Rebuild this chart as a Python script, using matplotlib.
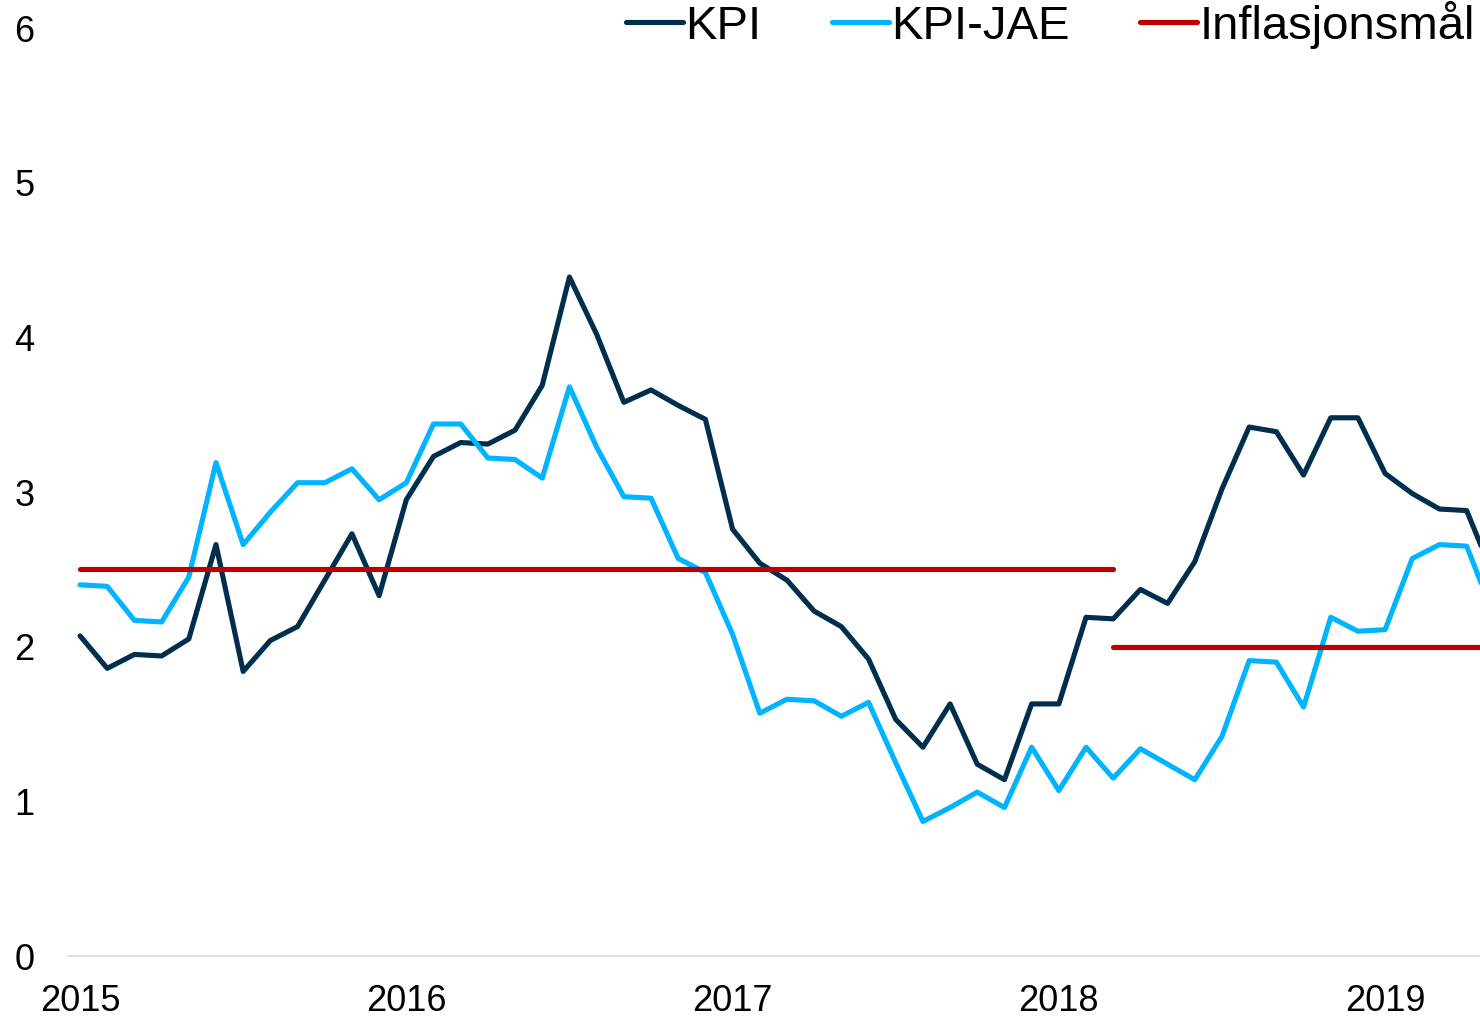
import numpy as np
import pandas as pd
from matplotlib import pyplot as plt

plt.rcParams['font.family'] = ['Liberation Sans', 'DejaVu Sans']

# Monthly 12-month growth, Jan 2015 - May 2019 (percent)
months = pd.date_range('2015-01-01', periods=53, freq='MS')

kpi = [2.07, 1.86, 1.95, 1.94, 2.05, 2.66, 1.84, 2.04, 2.13, 2.43, 2.73, 2.33,
       2.95, 3.23, 3.32, 3.31, 3.40, 3.69, 4.39, 4.02, 3.58, 3.66, 3.56, 3.47,
       2.76, 2.54, 2.43, 2.23, 2.13, 1.92, 1.53, 1.35, 1.63, 1.24, 1.14, 1.63,
       1.63, 2.19, 2.18, 2.37, 2.28, 2.55, 3.02, 3.42, 3.39, 3.11, 3.48, 3.48,
       3.12, 2.99, 2.89, 2.88, 2.45]

kpi_jae = [2.40, 2.39, 2.17, 2.16, 2.45, 3.19, 2.66, 2.87, 3.06, 3.06, 3.15, 2.95,
           3.06, 3.44, 3.44, 3.22, 3.21, 3.09, 3.68, 3.29, 2.97, 2.96, 2.57, 2.48,
           2.08, 1.57, 1.66, 1.65, 1.55, 1.64, 1.25, 0.87, 0.96, 1.06, 0.96, 1.35,
           1.07, 1.35, 1.15, 1.34, 1.24, 1.14, 1.42, 1.91, 1.90, 1.61, 2.19, 2.10,
           2.11, 2.57, 2.66, 2.65, 2.20]

# Inflation target: 2.5 up to March 2018, 2.0 afterwards
target_old = 2.5
target_new = 2.0
target_change = '2018-03-01'

labels = ['KPI', 'KPI-JAE', 'Inflasjonsmål']
colors = ['#002E4D', '#00B4FF', '#C00000']

x = np.arange(len(months))
change_idx = list(months).index(pd.Timestamp(target_change))
target1 = np.where(x <= change_idx, target_old, np.nan)
target2 = np.where(x >= change_idx, target_new, np.nan)

fig = plt.figure(figsize=(14.8, 10.19), dpi=100)
ax = fig.add_axes([0.046, 0.0618, 0.954, 0.9107])

line_kw = dict(linewidth=3.7, solid_joinstyle='round', solid_capstyle='round')
l1, = ax.plot(x, kpi, color=colors[0], zorder=2, **line_kw)
l2, = ax.plot(x, kpi_jae, color=colors[1], zorder=3, **line_kw)
l3, = ax.plot(x, target1, color=colors[2], zorder=4, **line_kw)
ax.plot(x, target2, color=colors[2], zorder=4, **line_kw)

ax.set_ylim(0, 6)
ax.set_xlim(-0.44, 51.49)
ax.set_yticks(range(0, 7))

# Year labels on January
jan = [i for i, m in enumerate(months) if m.month == 1]
ax.set_xticks(jan)
ax.set_xticklabels([str(months[i].year) for i in jan])

ax.tick_params(axis='y', length=0, pad=24, labelsize=26)
ax.tick_params(axis='x', length=0, pad=20, labelsize=26)

for side in ['top', 'right', 'left']:
    ax.spines[side].set_visible(False)
ax.spines['bottom'].set_color('#D9D9D9')
ax.spines['bottom'].set_linewidth(1.2)

fig.legend([l1, l2, l3], labels, loc='upper right', bbox_to_anchor=(0.997, 1.0),
           ncol=3, frameon=False, fontsize=34, handlelength=1.2,
           handletextpad=0.05, columnspacing=1.5, borderpad=0, borderaxespad=0.02)

fig.savefig('out.png', dpi=100)
